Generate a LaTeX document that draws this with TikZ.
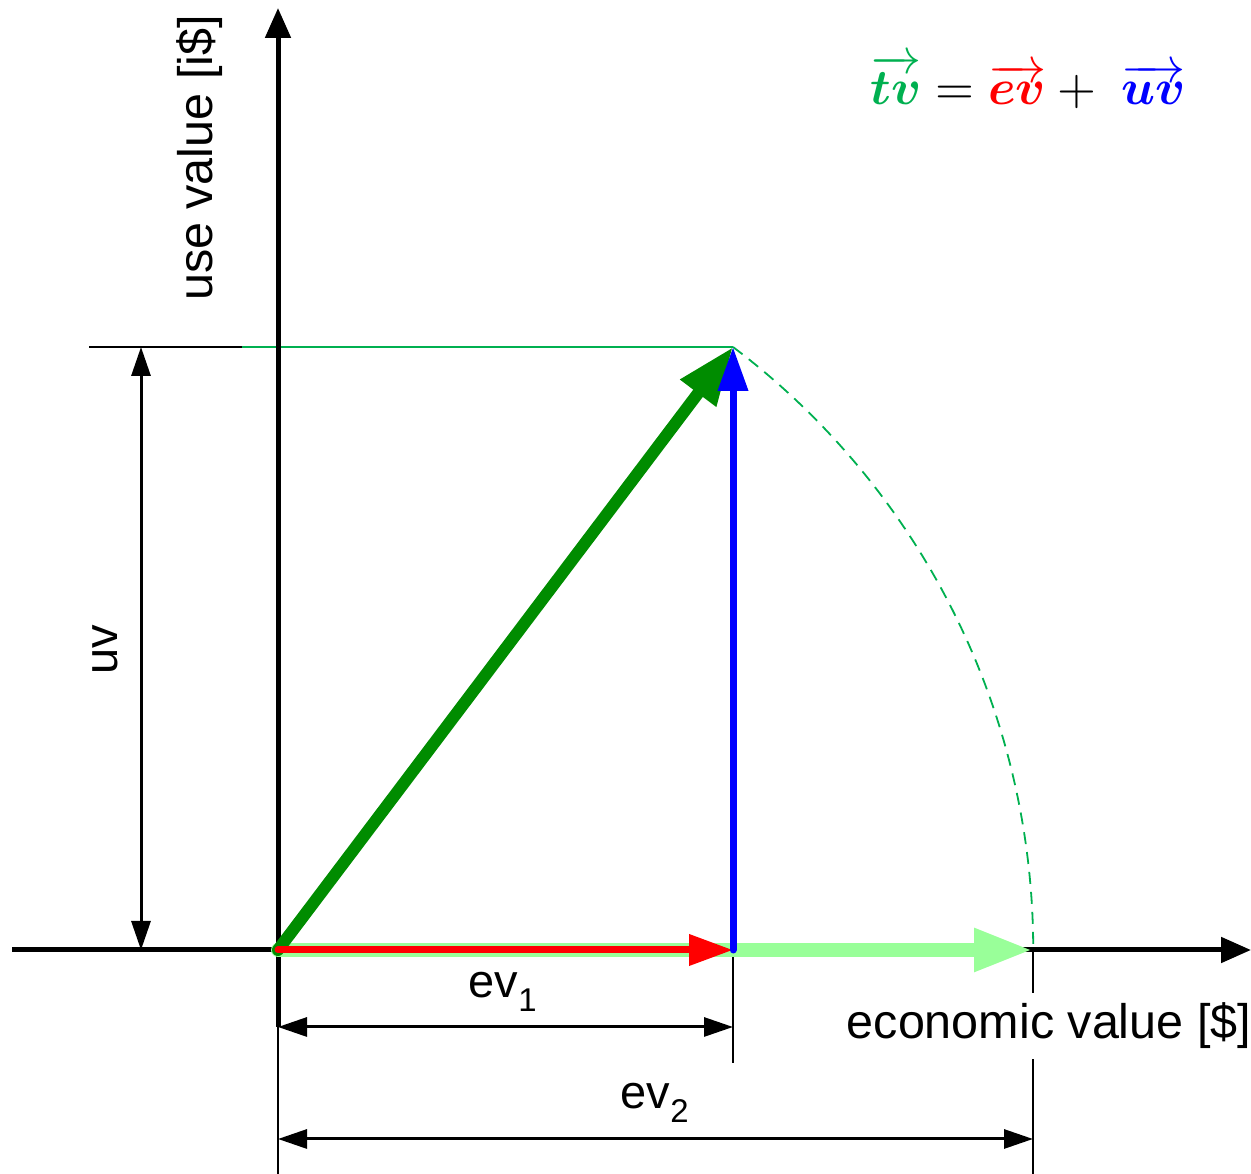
\documentclass[tikz,border=0pt]{standalone}
\usepackage{fontspec}
\usepackage{amsmath}
\usepackage{bm}
\usepackage{graphicx}
\setmainfont{Liberation Sans}
\usetikzlibrary{arrows.meta}
\definecolor{tvgreen}{RGB}{0,140,0}
\definecolor{lightgr}{RGB}{153,255,153}
\definecolor{eqgreen}{RGB}{0,176,80}
\definecolor{linegreen}{RGB}{0,176,80}
\begin{document}
\begin{tikzpicture}[x=1pt,y=1pt,
  axis/.style={line width=5pt,-{Triangle[length=30pt,width=25pt]}},
  thin/.style={line width=1.8pt},
  dimline/.style={line width=3pt,{Triangle[length=29pt,width=19pt]}-{Triangle[length=29pt,width=19pt]}},
  lbl/.style={font=\fontsize{47}{53}\selectfont, inner sep=2pt},
  biglbl/.style={font=\fontsize{48.5}{55}\selectfont, inner sep=2pt},
  vec/.style={line cap=round}
]
\useasboundingbox (0,0) rectangle (1251,1174);
% key points
\coordinate (O) at (278,224);
\coordinate (P) at (733,827);
\coordinate (E1) at (733,224);
\coordinate (E2) at (1033,224);
\coordinate (XL) at (12,224);
\coordinate (XR) at (1251,224);
\coordinate (YB) at (278,147);
\coordinate (YT) at (278,1166);
\coordinate (HL) at (89,827);
\coordinate (HM) at (242,827);
\coordinate (UVt) at (141,827);
\coordinate (UVb) at (141,224);
\coordinate (D1a) at (278,147);
\coordinate (D1b) at (733,147);
\coordinate (D2a) at (278,35);
\coordinate (D2b) at (1033,35);
\coordinate (X0b) at (278,0);
\coordinate (X1b) at (733,111);
\coordinate (X2b) at (1033,0);

% extension lines
\draw[thin] (D1a) -- (X0b);
\draw[thin] (E1) -- (X1b);
\draw[thin] (E2) -- (X2b);
\draw[thin] (HL) -- (HM);
\draw[thin, linegreen] (HM) -- (P);

% axis label for x (covers extension line)
\node[biglbl, fill=white, inner sep=10pt] (xlab) at (1049,148) {economic value [\$]};

% axes
\draw[axis] (XL) -- (XR);
\draw[line width=5pt] (YB) -- (O);
\draw[axis] (O) -- (YT);

% dashed arc
\draw[linegreen, line width=1.8pt, dash pattern=on 12pt off 8pt] (P) arc[start angle=52.96, end angle=0, radius=755];

% vectors
\draw[vec, lightgr, line width=14pt, -{Triangle[length=59pt,width=40pt]}] (O) -- (E2);
\draw[vec, tvgreen, line width=12pt, -{Triangle[length=58pt,width=42pt]}] (O) -- (P);
\draw[vec, red, line width=7pt, -{Triangle[length=44pt,width=30pt]}] (O) -- (E1);
\draw[vec, blue, line width=7pt, -{Triangle[length=44pt,width=29pt]}] (E1) -- (P);

% dimension lines
\draw[dimline] (UVt) -- (UVb);
\draw[dimline] (D1a) -- (D1b);
\draw[dimline] (D2a) -- (D2b);

% labels
\node[biglbl, rotate=90] (ylab) at (200,1016) {use value [i\$]};
\node[lbl, rotate=90] (uvlab) at (105,524) {uv};
\node[lbl] (ev1lab) at (503,182) {ev\textsubscript{1}};
\node[lbl] (ev2lab) at (655,71) {ev\textsubscript{2}};

% formula
\node[font=\normalsize, inner sep=0pt] (eq) at (1028,1092)
  {\scalebox{5}{$\color{eqgreen}\overrightarrow{\bm{tv}}\color{black} = \color{red}\overrightarrow{\bm{ev}}\color{black} + \;\color{blue}\overrightarrow{\bm{uv}}$}};
\end{tikzpicture}
\end{document}
